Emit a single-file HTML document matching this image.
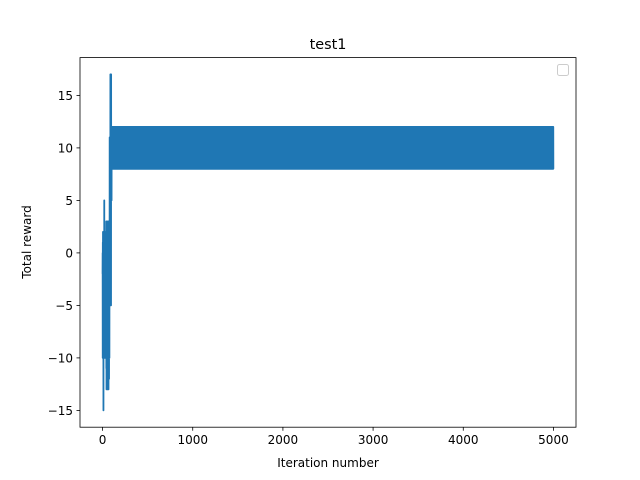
<!DOCTYPE html>
<html><head><meta charset="utf-8"><style>
body{margin:0;background:#fff}
svg{display:block;font-family:"DejaVu Sans","Liberation Sans",sans-serif}
</style></head><body>
<svg id="chart" width="640" height="480" viewBox="0 0 640 480">
<rect width="640" height="480" fill="#fff"/>
<text x="328" y="49" font-size="14.4" text-anchor="middle">test1</text>
<g id="series"></g>
<g id="xticks"></g>
<g id="yticks"></g>
<rect x="80" y="57.6" width="496" height="369.6" fill="none" stroke="#000" stroke-width="0.8"/>
<rect x="557.5" y="64.5" width="11" height="11" rx="2" fill="#fff" stroke="#ccc" stroke-width="1"/>
<text x="328" y="467" font-size="12" text-anchor="middle">Iteration number</text>
<text x="0" y="0" font-size="12" text-anchor="middle" transform="translate(31,242) rotate(-90)">Total reward</text>
</svg>
<script>
const earlyValues = [-2,0,-10,1,-3,2,-10,-1,-8,0,-15,-2,-6,1,-10,2,-4,0,-9,5,-7,1,-10,2,-5,0,-10,2,-8,1,-6,0,-9,2,-10,1,-4,0,-10,2,-7,3,-11,1,-13,3,-6,1,-9,2,-11,3,-4,1,-10,2,-13,3,-8,1,-5,2,-10,3,-6,2,-13,3,-9,1,-5,3,-12,2,-7,1,-10,3,-5,11,-2,8,-5,11,0,9,-5,17,-1,12,5,17,8,11,-5,17,5,12,8,11,5,12,8,12,8,11,8,12,8,12];
const steadyLow = 8;
const steadyHigh = 12;
const totalIterations = 5000;
const xTicks = [0,1000,2000,3000,4000,5000];
const yTicks = [-15,-10,-5,0,5,10,15];

const X0=80,X1=576,Y0=57.6,Y1=427.2;
const xMin=-250,xMax=5250,yMin=-16.6,yMax=18.6;
const sx=v=>X0+(v-xMin)/(xMax-xMin)*(X1-X0);
const sy=v=>Y1-(v-yMin)/(yMax-yMin)*(Y1-Y0);
const NS="http://www.w3.org/2000/svg";

const values=earlyValues.slice();
while(values.length<totalIterations){values.push(values.length%2?steadyLow:steadyHigh);}

let d="";
values.forEach((v,i)=>{d+=(i?"L":"M")+sx(i).toFixed(2)+","+sy(v).toFixed(2);});
const p=document.createElementNS(NS,"path");
p.setAttribute("d",d);p.setAttribute("fill","none");p.setAttribute("stroke","#1f77b4");
p.setAttribute("stroke-width","1.8");p.setAttribute("stroke-linejoin","round");


document.getElementById("series").appendChild(p);

const xg=document.getElementById("xticks");
xTicks.forEach(t=>{
 const x=sx(t);
 const l=document.createElementNS(NS,"line");
 l.setAttribute("x1",x);l.setAttribute("x2",x);l.setAttribute("y1",Y1);l.setAttribute("y2",Y1+3.5);
 l.setAttribute("stroke","#000");l.setAttribute("stroke-width","0.8");
 
 
 xg.appendChild(l);
 const tx=document.createElementNS(NS,"text");
 tx.setAttribute("x",x);tx.setAttribute("y",Y1+17);tx.setAttribute("font-size","12");tx.setAttribute("text-anchor","middle");
 tx.textContent=t;
 
 
 xg.appendChild(tx);
});
const yg=document.getElementById("yticks");
yTicks.forEach(t=>{
 const y=sy(t);
 const l=document.createElementNS(NS,"line");
 l.setAttribute("x1",X0-3.5);l.setAttribute("x2",X0);l.setAttribute("y1",y);l.setAttribute("y2",y);
 l.setAttribute("stroke","#000");l.setAttribute("stroke-width","0.8");
 
 
 yg.appendChild(l);
 const tx=document.createElementNS(NS,"text");
 tx.setAttribute("x",X0-7);tx.setAttribute("y",y+4.5);tx.setAttribute("font-size","12");tx.setAttribute("text-anchor","end");
 tx.textContent=t<0?"\u2212"+(-t):t;
 
 
 yg.appendChild(tx);
});
</script>
</body></html>
